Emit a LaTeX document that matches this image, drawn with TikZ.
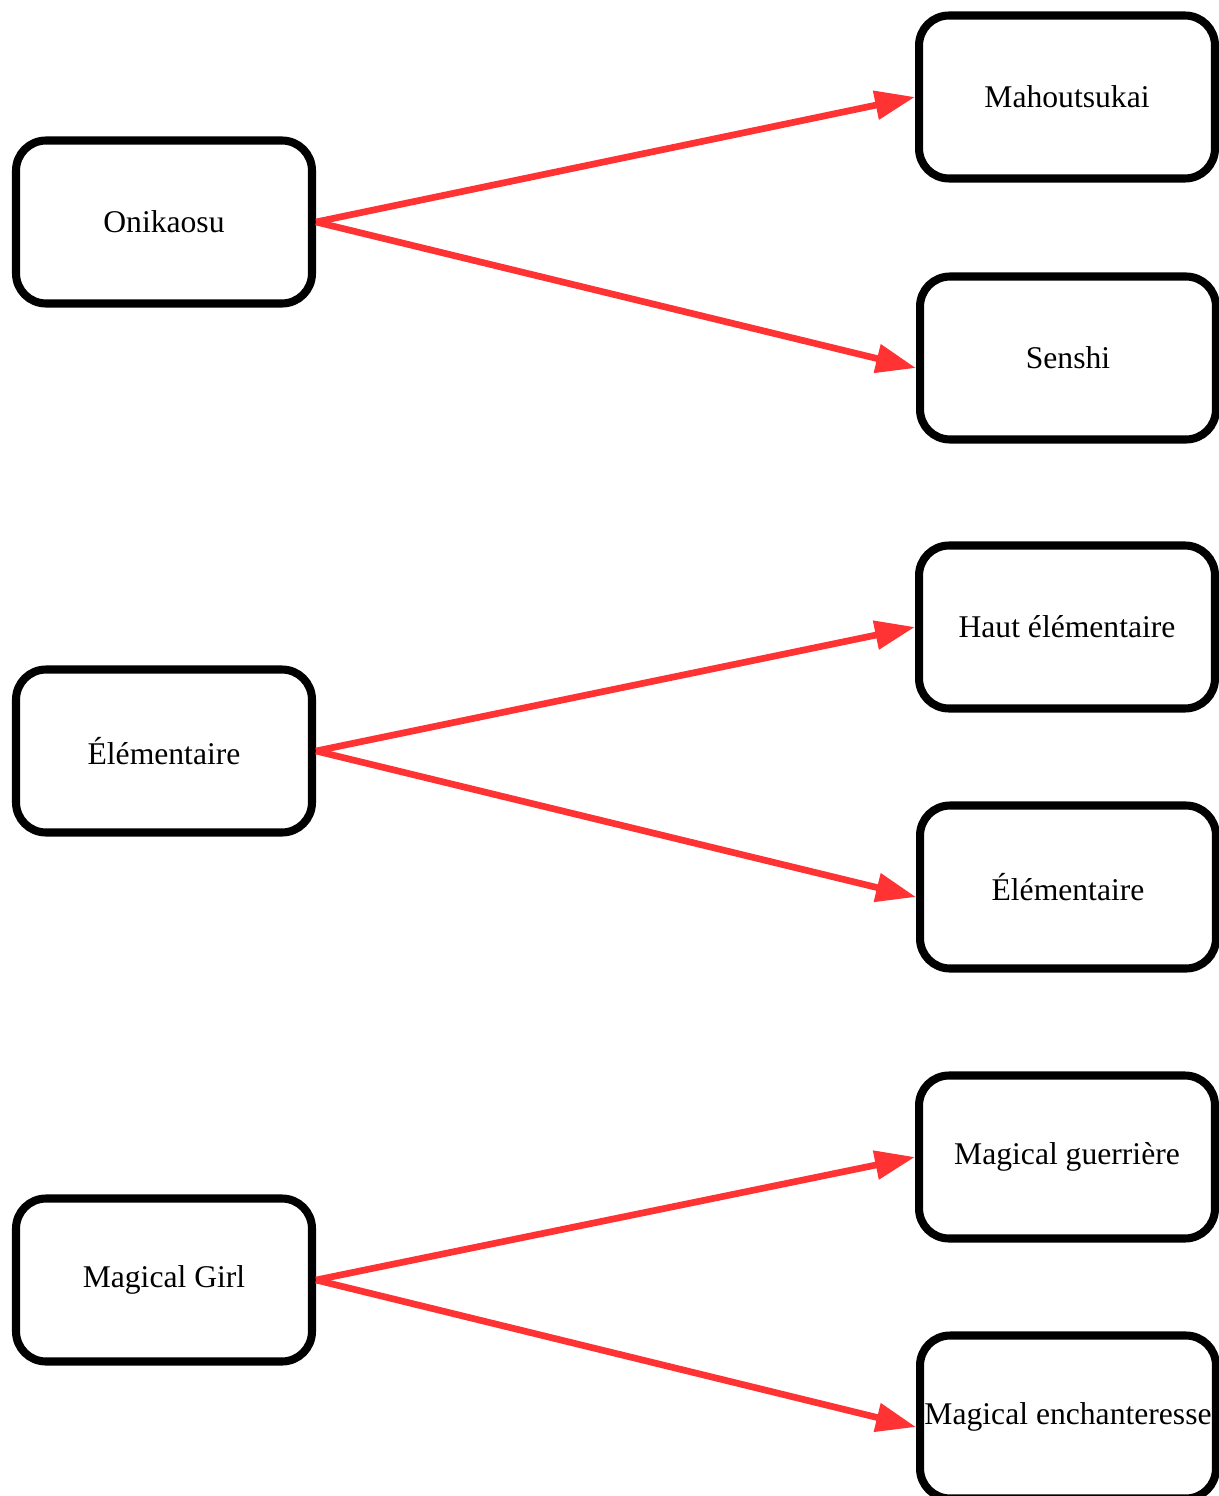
\documentclass[tikz,border=0pt]{standalone}
\usepackage{fontspec}
\setmainfont{Liberation Serif}
\usetikzlibrary{arrows.meta}

\definecolor{linkred}{HTML}{FF3333}

\tikzset{
  classbox/.style={draw, line width=4.6pt, rounded corners=0.6cm, minimum width=5.92cm,
    minimum height=3.26cm, inner sep=1pt, font=\fontsize{18}{22}\selectfont},
  linkarrow/.style={linkred, line width=3.8pt, -{Triangle[length=0.8cm,width=0.56cm]}}
}

\begin{document}
\begin{tikzpicture}[x=0.02cm, y=-0.02cm]
\useasboundingbox (0,0) rectangle (1218,1496);

% left column
\node[classbox] (oni) at (164,222) {Onikaosu};
\node[classbox] (elem) at (164,751) {Élémentaire};
\node[classbox] (magic) at (164,1280) {Magical Girl};

% right column
\node[classbox] (mahou) at (1067,97) {Mahoutsukai};
\node[classbox] (senshi) at (1068,358) {Senshi};
\node[classbox] (haut) at (1067,627) {Haut élémentaire};
\node[classbox] (elemb) at (1068,887) {Élémentaire};
\node[classbox] (guerr) at (1067,1157) {Magical guerrière};
\node[classbox] (ench) at (1068,1417) {Magical enchanteresse};

\draw[linkarrow] (oni.east) -- (mahou.west);
\draw[linkarrow] (oni.east) -- ([yshift=-0.2cm]senshi.west);
\draw[linkarrow] (elem.east) -- (haut.west);
\draw[linkarrow] (elem.east) -- ([yshift=-0.2cm]elemb.west);
\draw[linkarrow] (magic.east) -- (guerr.west);
\draw[linkarrow] (magic.east) -- ([yshift=-0.2cm]ench.west);

\end{tikzpicture}
\end{document}
